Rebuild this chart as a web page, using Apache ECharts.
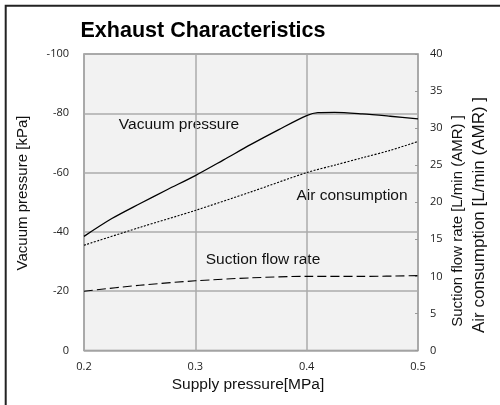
<!DOCTYPE html>
<html>
<head>
<meta charset="utf-8">
<script src="https://cdn.jsdelivr.net/npm/echarts@6/dist/echarts.min.js"></script>
<style>
  html, body { margin: 0; padding: 0; background: #ffffff; }
  #chart { width: 500px; height: 405px; }
</style>
</head>
<body>
<div id="chart"></div>
<script>
// Supply pressure [MPa]
var supplyPressure = [0.2, 0.225, 0.25, 0.275, 0.3, 0.325, 0.35, 0.375, 0.4, 0.41, 0.425, 0.45, 0.475, 0.5];
// Vacuum pressure [kPa]
var vacuumPressure = [-38.5, -44.5, -49.5, -54.3, -59, -64.2, -69.5, -74.5, -79.2, -80.2, -80.3, -79.8, -79, -78.1];
// Air consumption [L/min (ANR)]
var airPressure = [0.2, 0.25, 0.3, 0.35, 0.4, 0.425, 0.45, 0.475, 0.5];
var airConsumption = [14.2, 16.6, 18.9, 21.4, 24.0, 25.0, 26.0, 27.0, 28.2];
// Suction flow rate [L/min (ANR)]
var suctionPressure = [0.2, 0.25, 0.3, 0.35, 0.4, 0.45, 0.5];
var suctionFlow = [8.0, 8.8, 9.4, 9.8, 10.0, 10.0, 10.1];

function pairs(xs, ys) {
  return xs.map(function (x, i) { return [x, ys[i]]; });
}

var chart = echarts.init(document.getElementById('chart'), null, { renderer: 'canvas' });

var tickFont = { fontFamily: 'Open Sans', fontSize: 11, color: '#222' };
var textFont = 'Liberation Sans';

chart.setOption({
  animation: false,
  backgroundColor: '#ffffff',
  grid: {
    left: 84, right: 82, top: 54, bottom: 54.5,
    show: true,
    backgroundColor: '#f2f2f2',
    borderColor: '#8c8c8c',
    borderWidth: 1.5
  },
  xAxis: {
    type: 'value',
    min: 0.2, max: 0.5, interval: 0.1,
    axisLine: { show: false },
    axisTick: { show: false },
    axisLabel: Object.assign({ margin: 11, formatter: function (v) { return v.toFixed(1); } }, tickFont),
    splitLine: { show: true, lineStyle: { color: '#ababab', width: 1.5 } }
  },
  yAxis: [
    {
      type: 'value',
      min: -100, max: 0, interval: 20,
      inverse: true,
      axisLine: { show: false },
      axisTick: { show: false },
      axisLabel: Object.assign({ margin: 15 }, tickFont),
      splitLine: { show: true, lineStyle: { color: '#ababab', width: 1.5 } }
    },
    {
      type: 'value',
      position: 'right',
      min: 0, max: 40, interval: 5,
      axisLine: { show: false },
      axisTick: { show: true, inside: true, length: 3, lineStyle: { color: '#9a9a9a', width: 1 } },
      axisLabel: Object.assign({ margin: 12 }, tickFont),
      splitLine: { show: false }
    }
  ],
  series: [
    {
      name: 'Vacuum pressure',
      type: 'line',
      yAxisIndex: 0,
      smooth: 0.3,
      symbol: 'none',
      lineStyle: { color: '#000', width: 1.3, type: 'solid' },
      data: pairs(supplyPressure, vacuumPressure)
    },
    {
      name: 'Air consumption',
      type: 'line',
      yAxisIndex: 1,
      smooth: 0.3,
      symbol: 'none',
      lineStyle: { color: '#000', width: 1.1, type: [2, 1.5] },
      data: pairs(airPressure, airConsumption)
    },
    {
      name: 'Suction flow rate',
      type: 'line',
      yAxisIndex: 1,
      smooth: 0.3,
      symbol: 'none',
      lineStyle: { color: '#000', width: 1.1, type: [9, 4] },
      data: pairs(suctionPressure, suctionFlow)
    }
  ],
  graphic: [
    // outer frame
    {
      type: 'rect', silent: true,
      shape: { x: 5.7, y: 5.7, width: 600, height: 500 },
      style: { fill: 'none', stroke: '#222', lineWidth: 2 }
    },
    {
      type: 'text', x: 203, y: 31,
      style: { text: 'Exhaust Characteristics', font: 'bold 21.5px "' + textFont + '"', fill: '#000', textAlign: 'center', textVerticalAlign: 'middle' }
    },
    {
      type: 'text', x: 23, y: 193, rotation: Math.PI / 2,
      style: { text: 'Vacuum pressure [kPa]', font: '15px "' + textFont + '"', fill: '#111', textAlign: 'center', textVerticalAlign: 'middle' }
    },
    {
      type: 'text', x: 248, y: 385,
      style: { text: 'Supply pressure[MPa]', font: '15.5px "' + textFont + '"', fill: '#111', textAlign: 'center', textVerticalAlign: 'middle' }
    },
    {
      type: 'text', x: 458, y: 221, rotation: Math.PI / 2,
      style: { text: 'Suction flow rate [L/min (AMR) ]', font: '15px "' + textFont + '"', fill: '#111', textAlign: 'center', textVerticalAlign: 'middle' }
    },
    {
      type: 'text', x: 479, y: 215, rotation: Math.PI / 2,
      style: { text: 'Air consumption [L/min (AMR) ]', font: '17px "' + textFont + '"', fill: '#111', textAlign: 'center', textVerticalAlign: 'middle' }
    },
    {
      type: 'text', x: 179, y: 125,
      style: { text: 'Vacuum pressure', font: '15.5px "' + textFont + '"', fill: '#111', textAlign: 'center', textVerticalAlign: 'middle' }
    },
    {
      type: 'text', x: 352, y: 196,
      style: { text: 'Air consumption', font: '15.5px "' + textFont + '"', fill: '#111', textAlign: 'center', textVerticalAlign: 'middle' }
    },
    {
      type: 'text', x: 263, y: 260,
      style: { text: 'Suction flow rate', font: '15.5px "' + textFont + '"', fill: '#111', textAlign: 'center', textVerticalAlign: 'middle' }
    }
  ]
});
</script>
</body>
</html>
